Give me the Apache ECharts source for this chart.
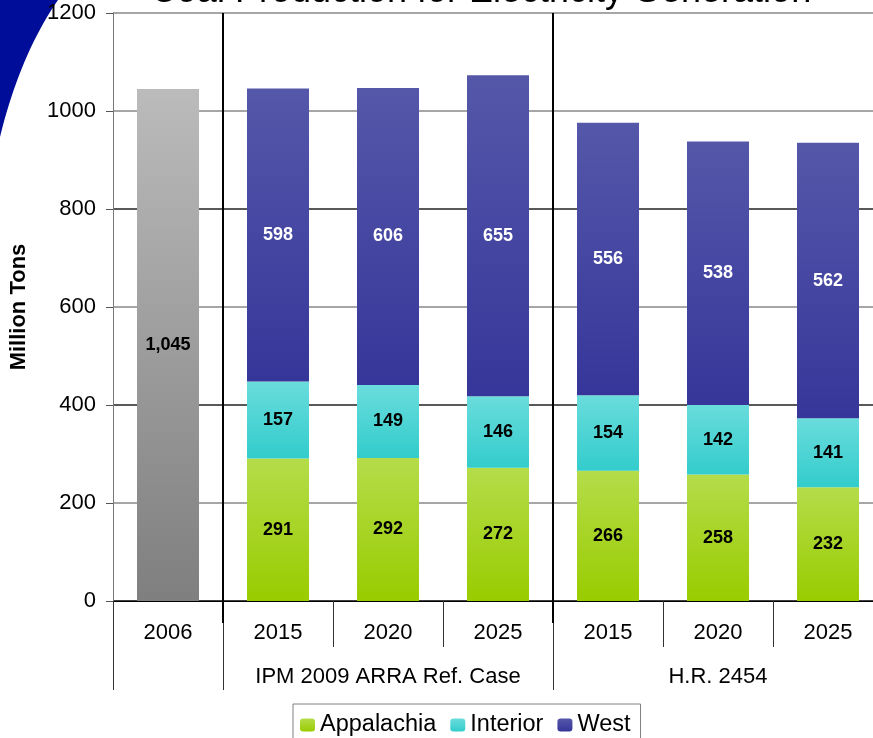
<!DOCTYPE html>
<html>
<head>
<meta charset="utf-8">
<script src="https://cdn.jsdelivr.net/npm/echarts@6/dist/echarts.min.js"></script>
<style>
  html, body { margin: 0; padding: 0; background: #fff; }
  #chart { width: 873px; height: 738px; }
</style>
</head>
<body>
<div id="chart"></div>
<script>
// categories and group labels
var categories = ['2006', '2015', '2020', '2025', '2015', '2020', '2025'];
var groupLabels = ['', '', 'IPM 2009 ARRA Ref. Case', '', '', 'H.R. 2454', ''];

// series values (million tons)
var total2006  = [1045, '-', '-', '-', '-', '-', '-'];
var appalachia = ['-', 291, 292, 272, 266, 258, 232];
var interior   = ['-', 157, 149, 146, 154, 142, 141];
var west       = ['-', 598, 606, 655, 556, 538, 562];

var FONT = 'Liberation Sans, Arial, sans-serif';

function grad(top, bottom) {
    return {
        type: 'linear', x: 0, y: 0, x2: 0, y2: 1,
        colorStops: [{ offset: 0, color: top }, { offset: 1, color: bottom }]
    };
}

function fmt(p) {
    return echarts.format.addCommas(p.value);
}

function barSeries(name, data, top, bottom, labelColor) {
    return {
        name: name,
        type: 'bar',
        stack: 'coal',
        data: data,
        barWidth: 62,
        itemStyle: { color: grad(top, bottom) },
        label: {
            show: true,
            position: 'inside',
            color: labelColor,
            fontFamily: FONT,
            fontWeight: 'bold',
            fontSize: 18,
            formatter: fmt
        }
    };
}

// corner swoosh outline (quadratic curve sampled)
function swooshPoints() {
    var pts = [[0, 0]];
    for (var i = 0; i <= 20; i++) {
        var t = i / 20;
        var x = (1 - t) * (1 - t) * 58 + 2 * (1 - t) * t * 20;
        var y = 2 * (1 - t) * t * 55 + t * t * 137;
        pts.push([x, y]);
    }
    return pts;
}

var chart = echarts.init(document.getElementById('chart'));

var option = {
    animation: false,
    textStyle: { fontFamily: FONT },
    grid: {
        left: 113, width: 770, top: 13, bottom: 137,
        containLabel: false, outerBoundsMode: 'none'
    },
    legend: {
        data: ['Appalachia', 'Interior', 'West'],
        left: 293,
        top: 704,
        padding: [9, 10, 10, 7],
        itemWidth: 15,
        itemHeight: 13,
        itemGap: 14,
        borderColor: '#808080',
        borderWidth: 1,
        textStyle: { fontSize: 23.5, color: '#000', fontFamily: FONT }
    },
    xAxis: [{
        type: 'category',
        data: categories,
        position: 'bottom',
        axisLine: { show: true, lineStyle: { color: '#000', width: 1 } },
        axisTick: { show: true, length: 46, interval: 0, lineStyle: { color: '#333' } },
        axisLabel: { interval: 0, fontSize: 22, color: '#000', margin: 21, fontFamily: FONT }
    }, {
        type: 'category',
        data: groupLabels,
        position: 'bottom',
        axisLine: { show: false },
        axisTick: {
            show: true,
            length: 89,
            interval: function (index) { return index === 0 || index === 1 || index === 4; },
            lineStyle: { color: '#333' }
        },
        axisLabel: { interval: 0, fontSize: 22, color: '#000', margin: 65, fontFamily: FONT }
    }],
    yAxis: {
        type: 'value',
        min: 0,
        max: 1200,
        interval: 200,
        name: 'Million Tons',
        nameLocation: 'middle',
        nameGap: 83,
        nameTextStyle: { fontSize: 22, fontWeight: 'bold', color: '#000', fontFamily: FONT },
        axisLine: { show: true, lineStyle: { color: '#777' } },
        axisTick: { show: true, length: 7, lineStyle: { color: '#555' } },
        axisLabel: {
            fontSize: 22, color: '#000', margin: 17, fontFamily: FONT,
            formatter: function (v) { return String(v); }
        },
        splitLine: {
            show: true,
            lineStyle: { color: ['#000', '#888', '#222', '#888', '#222', '#888', '#888'], width: 1.5 }
        }
    },
    series: [
        barSeries('2006', total2006, '#bbbbbb', '#7f7f7f', '#000'),
        barSeries('Appalachia', appalachia, '#b5dc4a', '#99cc00', '#000'),
        barSeries('Interior', interior, '#6adcdc', '#33cccc', '#000'),
        barSeries('West', west, '#5557a9', '#36369a', '#fff')
    ],
    graphic: [{
        type: 'polygon',
        z: -10,
        shape: { points: swooshPoints() },
        style: { fill: '#000d99' }
    }, {
        type: 'text',
        x: 481,
        y: 10,
        style: {
            text: 'Coal Production for Electricity Generation',
            font: 'normal 36px ' + FONT,
            fill: '#000',
            textAlign: 'center',
            textVerticalAlign: 'bottom'
        }
    }]
};

chart.setOption(option);

// group separators: between 2006 | IPM and IPM | H.R., from scale positions
var yTop = chart.convertToPixel({ yAxisIndex: 0 }, 1200);
var yBot = chart.convertToPixel({ yAxisIndex: 0 }, 0);
var seps = [[0, 1], [3, 4]].map(function (pair) {
    var xa = chart.convertToPixel({ xAxisIndex: 0 }, pair[0]);
    var xb = chart.convertToPixel({ xAxisIndex: 0 }, pair[1]);
    var x = (xa + xb) / 2;
    return {
        type: 'line',
        z: 5,
        shape: { x1: x, y1: yTop, x2: x, y2: yBot + 22 },
        style: { stroke: '#000', lineWidth: 2 }
    };
});
chart.setOption({ graphic: option.graphic.concat(seps) });
</script>
</body>
</html>
